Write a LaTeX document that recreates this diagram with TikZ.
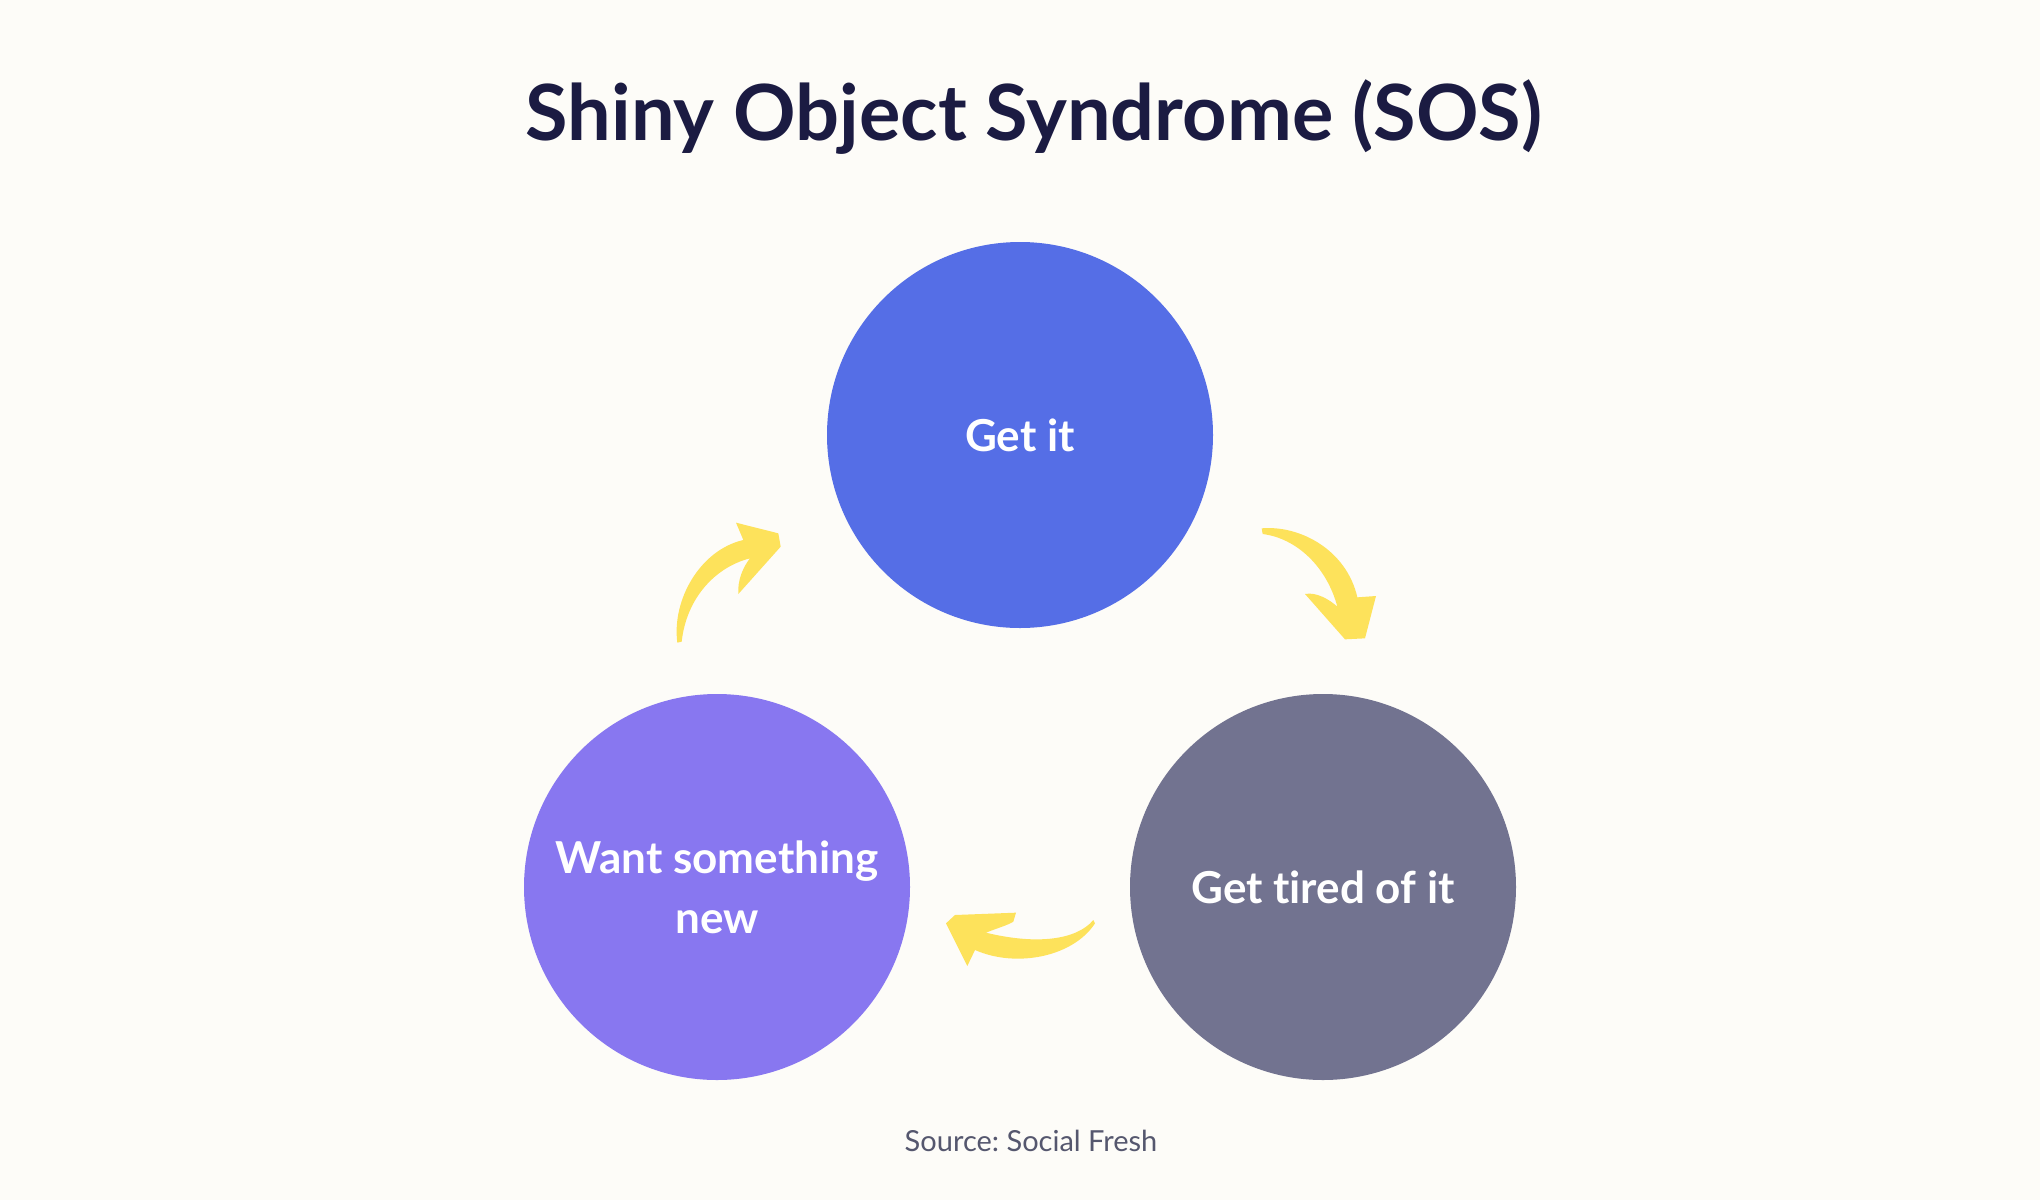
\documentclass[tikz,border=0pt]{standalone}
\usepackage{fontspec}
\setmainfont{Lato}[Ligatures=NoCommon]
\frenchspacing
\definecolor{bgc}{HTML}{FDFCF8}
\definecolor{titlec}{HTML}{1B1B42}
\definecolor{bluec}{HTML}{556EE6}
\definecolor{purplec}{HTML}{8877F0}
\definecolor{grayc}{HTML}{727390}
\definecolor{yellowc}{HTML}{FDE25B}
\definecolor{srcc}{HTML}{55576E}
\begin{document}
\begin{tikzpicture}[x=1pt,y=-1pt,
  bubble/.style={circle,minimum size=386pt,inner sep=0pt,text=white,align=center,
    font=\fontsize{44}{60}\selectfont\bfseries},
  yarrow/.style={fill=yellowc,draw=none}]
\fill[bgc] (0,0) rectangle (2040,1200);
\useasboundingbox (0,0) rectangle (2040,1200);
\node[font=\fontsize{77.5}{94}\selectfont\bfseries,text=titlec] (title) at (1034,117) {Shiny Object Syndrome (SOS)};
\node[bubble,fill=bluec] (get) at (1020,435) {Get it};
\node[bubble,fill=grayc] (tired) at (1323,887) {Get tired of it};
\node[bubble,fill=purplec] (want) at (717,887) {Want something\\new};
\node[font=\fontsize{29}{34}\selectfont,text=srcc] (src) at (1031,1141) {Source: Social Fresh};
% arrow want -> get
\begin{scope}[shift={(650,500)},scale=1/3]
\fill[yarrow] (258,68) -- (385,100) -- (392,140) -- (265,282)
  .. controls (262,240) and (280,200) .. (300,175)
  .. controls (200,200) and (110,290) .. (95,425)
  -- (82,428) .. controls (65,300) and (150,150) .. (280,120) -- cycle;
\end{scope}
% arrow get -> tired
\begin{scope}[shift={(1250,510)},scale=1/3]
\fill[yarrow] (35,55) .. controls (150,45) and (290,120) .. (322,262)
  -- (378,258) -- (345,385) -- (285,388) -- (165,252)
  .. controls (200,245) and (240,270) .. (262,290)
  .. controls (230,170) and (140,85) .. (38,72) -- cycle;
\end{scope}
% arrow tired -> want
\begin{scope}[shift={(930,890)},scale=1/3]
\fill[yarrow] (490,90) .. controls (440,150) and (320,165) .. (168,128)
  .. controls (200,115) and (235,105) .. (250,95) -- (258,68) -- (75,75)
  -- (48,100) -- (112,228) -- (135,180)
  .. controls (260,235) and (430,200) .. (495,100) -- cycle;
\end{scope}
\end{tikzpicture}
\end{document}
